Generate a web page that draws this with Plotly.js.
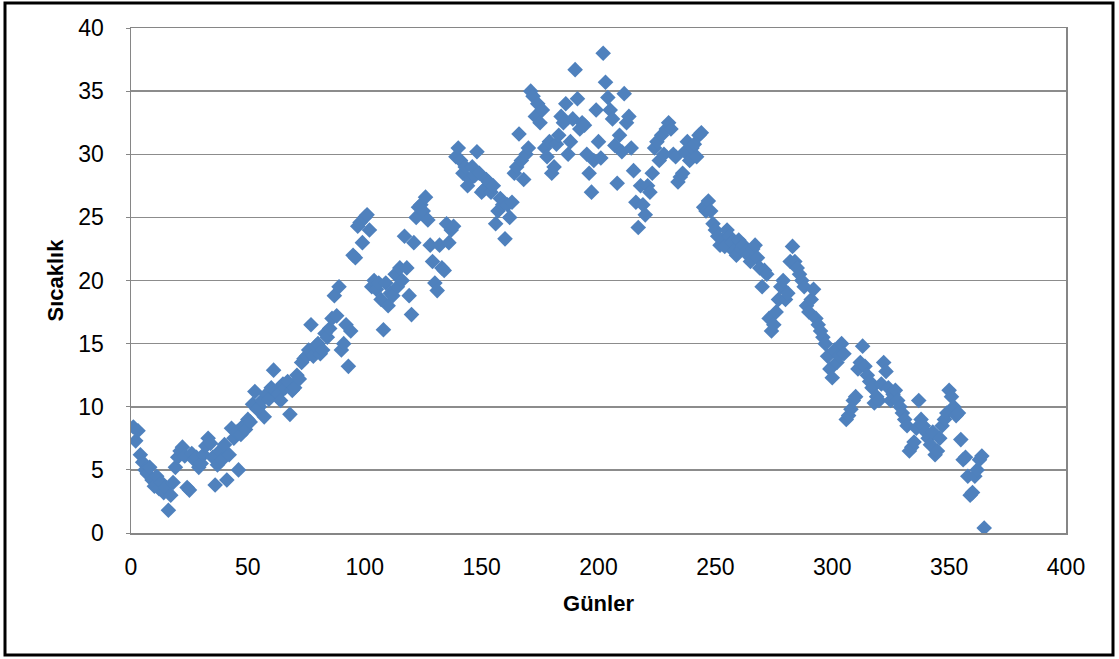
<!DOCTYPE html>
<html>
<head>
<meta charset="utf-8">
<script src="https://cdn.plot.ly/plotly-3.0.1.min.js"></script>
<style>
html,body{margin:0;padding:0;background:#fff;}
#chart{width:1119px;height:659px;}
</style>
</head>
<body>
<div id="chart"></div>
<script>
// Sıcaklık values for days 1..365
const temperatures = [
  8.4, 7.3, 8.1, 6.2, 5.6, 5.0, 4.7, 5.2, 4.2, 3.7,
  4.5, 3.5, 4.0, 3.2, 3.6, 1.8, 3.0, 4.0, 5.2, 6.0,
  6.5, 6.8, 6.1, 3.6, 3.4, 6.3, 5.8, 6.0, 5.2, 5.5,
  6.2, 6.9, 7.5, 7.1, 6.0, 3.8, 5.4, 6.5, 5.8, 7.0,
  4.2, 6.2, 8.3, 7.5, 8.0, 5.0, 7.8, 8.5, 8.2, 9.0,
  8.8, 10.2, 11.2, 9.8, 10.0, 10.5, 9.2, 11.0, 10.6, 11.5,
  12.9, 11.2, 11.0, 10.5, 11.8, 11.5, 12.0, 9.4, 11.3, 11.5,
  12.5, 12.2, 13.5, 13.8, 14.0, 14.5, 16.5, 14.0, 14.8, 15.0,
  14.2, 14.5, 15.8, 15.5, 16.2, 17.0, 18.8, 17.2, 19.5, 14.5,
  15.0, 16.5, 13.2, 16.0, 22.0, 21.8, 24.3, 24.6, 23.0, 25.0,
  25.2, 24.0, 19.5, 20.0, 19.3, 19.8, 18.5, 16.1, 19.8, 18.0,
  19.0, 18.8, 20.5, 19.5, 21.0, 20.0, 23.5, 21.0, 18.8, 17.3,
  23.0, 25.0, 25.8, 26.0, 25.5, 26.6, 24.8, 22.8, 21.5, 19.8,
  19.2, 22.8, 21.0, 20.8, 24.5, 23.0, 24.0, 24.3, 29.8, 30.5,
  29.5, 28.5, 29.0, 27.5, 28.0, 29.0, 28.3, 30.2, 28.5, 27.0,
  27.2, 28.0, 27.8, 27.0, 27.5, 24.5, 25.5, 26.5, 26.0, 23.3,
  26.0, 25.0, 26.2, 28.5, 29.0, 31.6, 29.5, 28.0, 30.0, 30.5,
  35.0, 34.6, 33.0, 34.0, 32.5, 33.5, 30.5, 29.8, 31.0, 28.5,
  29.0, 30.8, 31.5, 33.0, 32.5, 34.0, 30.0, 31.0, 32.8, 36.7,
  34.4, 32.0, 32.5, 32.3, 30.0, 28.5, 27.0, 29.5, 33.5, 31.0,
  29.7, 38.0, 35.7, 34.5, 33.5, 32.8, 30.7, 27.7, 31.5, 30.2,
  34.8, 32.5, 33.0, 30.5, 28.7, 26.2, 24.2, 27.5, 26.0, 25.2,
  27.5, 27.0, 28.5, 30.5, 31.0, 29.5, 31.5, 30.0, 32.0, 32.5,
  32.0, 30.0, 29.8, 27.8, 28.2, 28.5, 30.2, 31.0, 29.5, 30.5,
  30.8, 29.8, 31.5, 31.7, 25.8, 25.5, 26.3, 25.5, 24.5, 24.0,
  23.5, 22.8, 23.2, 22.7, 24.0, 23.5, 23.0, 22.3, 22.0, 23.2,
  22.5, 22.8, 22.3, 22.0, 21.5, 22.5, 22.8, 21.8, 21.0, 19.5,
  20.8, 20.5, 17.0, 16.0, 16.5, 17.5, 18.5, 19.5, 20.0, 18.5,
  19.0, 21.5, 22.7, 21.5, 21.0, 20.5, 20.0, 19.5, 18.0, 17.5,
  18.5, 19.3, 17.0, 16.5, 16.0, 15.5, 15.0, 14.0, 13.0, 12.3,
  14.5, 13.5, 14.0, 15.0, 14.2, 9.0, 9.3, 9.8, 10.5, 10.8,
  13.0, 13.5, 14.8, 13.2, 12.5, 12.0, 11.5, 10.3, 10.8, 10.5,
  11.8, 13.5, 12.8, 11.5, 10.5, 11.0, 11.3, 10.5, 10.0, 9.5,
  9.0, 8.5, 6.5, 6.8, 7.2, 8.3, 10.5, 9.0, 8.5, 8.0,
  7.5, 7.0, 8.0, 6.2, 6.5, 7.5, 8.5, 9.0, 9.5, 11.3,
  10.8, 10.0, 9.3, 9.5, 7.4, 5.8, 6.0, 4.5, 3.0, 3.2,
  4.5, 5.0, 5.8, 6.1, 0.4
];
const days = temperatures.map((_, i) => i + 1);

const xTitle = "Günler";
const yTitle = "Sıcaklık";

const font = "'Liberation Sans', Arial, sans-serif";

const trace = {
  type: "scatter",
  mode: "markers",
  x: days,
  y: temperatures,
  marker: { symbol: "diamond", size: 12, color: "#4F81BD", line: { width: 0 } },
  hoverinfo: "x+y"
};

const layout = {
  width: 1119,
  height: 659,
  paper_bgcolor: "#ffffff",
  plot_bgcolor: "#ffffff",
  margin: { l: 131, r: 53, t: 28, b: 126 },
  showlegend: false,
  font: { family: font, size: 23, color: "#000" },
  xaxis: {
    range: [0, 400],
    dtick: 50,
    tick0: 0,
    showgrid: false,
    zeroline: false,
    showline: true,
    linecolor: "#868686",
    linewidth: 1.5,
    mirror: true,
    ticks: "",
    ticklabelstandoff: 13,
    tickfont: { family: font, size: 23 },
    title: { text: xTitle, font: { family: font, size: 22, weight: "bold" }, standoff: 16 }
  },
  yaxis: {
    range: [0, 40],
    dtick: 5,
    tick0: 0,
    showgrid: true,
    gridcolor: "#8c8c8c",
    gridwidth: 1.5,
    zeroline: false,
    showline: true,
    linecolor: "#868686",
    linewidth: 1.5,
    mirror: true,
    ticks: "outside",
    ticklen: 4,
    tickcolor: "#868686",
    ticklabelstandoff: 17,
    tickfont: { family: font, size: 23 },
    title: { text: yTitle, font: { family: font, size: 22, weight: "bold" }, standoff: 8 }
  },
  shapes: [
    {
      type: "rect", xref: "paper", yref: "paper",
      x0: (5 - 131) / 935, x1: (1113 - 131) / 935,
      y0: (533 - 655) / 505, y1: (533 - 3) / 505,
      line: { color: "#000", width: 3 }, fillcolor: "rgba(0,0,0,0)", layer: "below"
    }
  ]
};

Plotly.newPlot("chart", [trace], layout, { displayModeBar: false, staticPlot: true });
</script>
</body>
</html>
